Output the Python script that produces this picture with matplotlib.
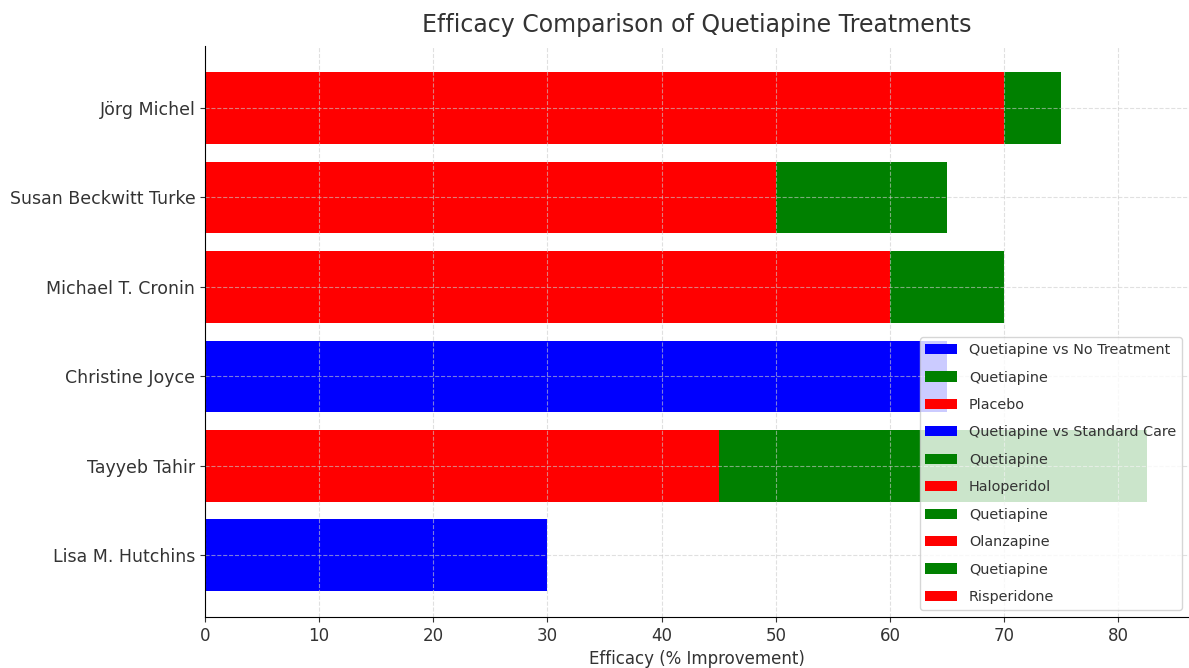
import numpy as np
from matplotlib import pyplot as plt, use

use('Agg')

# data, bottom row first (plotting order)
names = ['Lisa M. Hutchins', 'Tayyeb Tahir', 'Christine Joyce',
         'Michael T. Cronin', 'Susan Beckwitt Turke', 'Jörg Michel']
# None means a single comparison bar (blue)
quetiapine = [None, 82.5, None, 70, 65, 75]
comparator = [30, 45, 65, 60, 50, 70]
comparator_names = ['Quetiapine vs No Treatment', 'Placebo', 'Quetiapine vs Standard Care',
                    'Haloperidol', 'Olanzapine', 'Risperidone']

TEXT = '#333333'


def main():
    plt.rcParams['text.color'] = TEXT
    plt.rcParams['axes.labelcolor'] = TEXT
    plt.rcParams['xtick.color'] = TEXT
    plt.rcParams['ytick.color'] = TEXT

    fig = plt.figure(figsize=(11.89, 6.68), dpi=100)
    ax = fig.add_axes([0.1724, 0.0763, 1.0 - 0.1724, 0.931 - 0.0763])

    y = np.arange(len(names))
    for i, name in enumerate(names):
        if quetiapine[i] is None:
            ax.barh(y[i], comparator[i], color='blue', label=comparator_names[i])
        else:
            ax.barh(y[i], quetiapine[i], color='green', label='Quetiapine')
            ax.barh(y[i], comparator[i], color='red', label=comparator_names[i])

    ax.set_yticks(y)
    ax.set_yticklabels(names, fontsize=12.5)
    ax.set_xticks(np.arange(0, 81, 10))
    ax.tick_params(axis='x', labelsize=12)
    ax.set_xlim(0, 86.2)
    ax.set_xlabel('Efficacy (% Improvement)', fontsize=12, labelpad=4)
    ax.set_title('Efficacy Comparison of Quetiapine Treatments', fontsize=17, pad=10)

    ax.grid(True, linestyle='--', color='#cccccc', alpha=0.6, linewidth=0.8)
    ax.spines['top'].set_visible(False)
    ax.spines['right'].set_visible(False)

    ax.legend(loc='lower right', fontsize=10.4, labelspacing=0.93,
              framealpha=0.8, borderaxespad=0.5, handlelength=2.2)

    fig.savefig('out.png', dpi=100)


if __name__ == '__main__':
    main()
